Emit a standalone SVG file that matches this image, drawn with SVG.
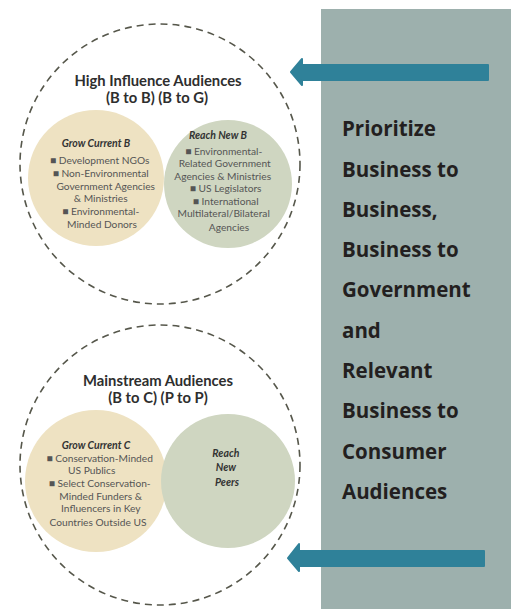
<svg xmlns="http://www.w3.org/2000/svg" width="511" height="609" viewBox="0 0 511 609">
  <style>
    .ring { fill: none; stroke: #56574b; stroke-width: 1.6; stroke-dasharray: 7 5; }
    .cur { fill: #eee2c2; }
    .new { fill: #cfd6c1; }
    .head { font-family: Lato, "Open Sans", sans-serif; font-weight: 700; font-size: 14.8px; fill: #2e2e2e; text-anchor: middle; }
    .sub { font-family: Lato, "Open Sans", sans-serif; font-weight: 700; font-style: italic; font-size: 10.5px; fill: #333; text-anchor: middle; }
    .item { font-family: Lato, "Open Sans", sans-serif; font-size: 10.2px; fill: #555; text-anchor: middle; }
    .panel-text { font-family: "Open Sans", Lato, sans-serif; font-weight: 700; font-size: 20.5px; fill: #231f20; }
    .arrow { fill: #2f8199; stroke: #2f8199; stroke-width: 2; stroke-linejoin: round; }
  </style>

  <!-- side panel -->
  <g id="priority-panel">
    <rect x="321" y="9" width="190" height="600" fill="#9db0ad"/>
    <text class="panel-text" x="342">
      <tspan x="342" y="136">Prioritize</tspan>
      <tspan x="342" y="177">Business to</tspan>
      <tspan x="342" y="217">Business,</tspan>
      <tspan x="342" y="257">Business to</tspan>
      <tspan x="342" y="297">Government</tspan>
      <tspan x="342" y="338">and</tspan>
      <tspan x="342" y="378">Relevant</tspan>
      <tspan x="342" y="418">Business to</tspan>
      <tspan x="342" y="459">Consumer</tspan>
      <tspan x="342" y="499">Audiences</tspan>
    </text>
  </g>

  <!-- high influence audiences -->
  <g id="high-influence">
    <circle class="ring" cx="160" cy="164" r="140"/>
    <text class="head" x="158" y="86">High Influence Audiences</text>
    <text class="head" x="157" y="103">(B to B) (B to G)</text>
    <g id="grow-current-b">
      <circle class="cur" cx="96" cy="178" r="68"/>
      <text class="sub" x="96" y="147">Grow Current B</text>
      <text class="item">
        <tspan x="101" y="164">■ Development NGOs</tspan>
        <tspan x="102" y="177">■ Non-Environmental</tspan>
        <tspan x="107" y="190">Government Agencies</tspan>
        <tspan x="102" y="202">&amp; Ministries</tspan>
        <tspan x="102" y="215">■ Environmental-</tspan>
        <tspan x="102" y="228">Minded Donors</tspan>
      </text>
    </g>
    <g id="reach-new-b">
      <circle class="new" cx="228" cy="184" r="64"/>
      <text class="sub" x="218" y="139">Reach New B</text>
      <text class="item">
        <tspan x="225" y="155">■ Environmental-</tspan>
        <tspan x="226" y="167">Related Government</tspan>
        <tspan x="224" y="180">Agencies &amp; Ministries</tspan>
        <tspan x="227" y="192">■ US Legislators</tspan>
        <tspan x="227" y="205">■ International</tspan>
        <tspan x="225" y="217">Multilateral/Bilateral</tspan>
        <tspan x="229" y="231">Agencies</tspan>
      </text>
    </g>
  </g>

  <!-- mainstream audiences -->
  <g id="mainstream">
    <circle class="ring" cx="160" cy="465" r="140"/>
    <text class="head" x="158" y="386">Mainstream Audiences</text>
    <text class="head" x="158" y="403">(B to C) (P to P)</text>
    <g id="grow-current-c">
      <circle class="cur" cx="96" cy="481" r="71"/>
      <text class="sub" x="96" y="449">Grow Current C</text>
      <text class="item">
        <tspan x="101" y="462">■ Conservation-Minded</tspan>
        <tspan x="93" y="474">US Publics</tspan>
        <tspan x="101" y="487">■ Select Conservation-</tspan>
        <tspan x="102" y="500">Minded Funders &amp;</tspan>
        <tspan x="102" y="512">Influencers in Key</tspan>
        <tspan x="98" y="526">Countries Outside US</tspan>
      </text>
    </g>
    <g id="reach-new-peers">
      <circle class="new" cx="228" cy="481" r="67"/>
      <text class="sub">
        <tspan x="227" y="457">Reach</tspan>
        <tspan x="227" y="471">New</tspan>
        <tspan x="227" y="486">Peers</tspan>
      </text>
    </g>
  </g>

  <!-- connectors -->
  <g id="connectors">
    <path class="arrow" d="M488,65 L302,65 L302,59 L291,72 L302,85 L302,80 L488,80 Z"/>
    <path class="arrow" d="M484,551 L299,551 L299,544 L288,558 L299,571 L299,566 L484,566 Z"/>
  </g>
</svg>
